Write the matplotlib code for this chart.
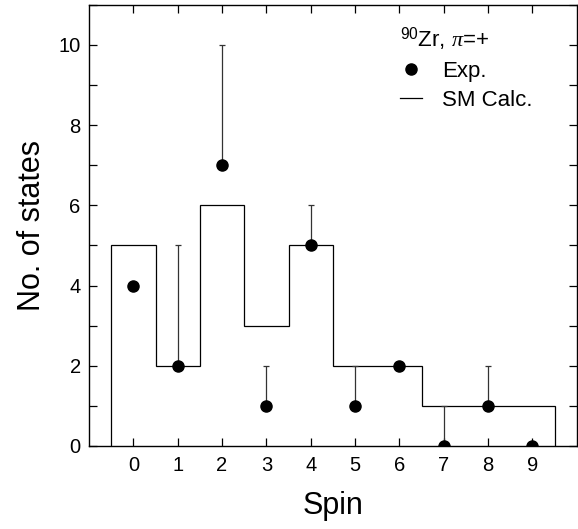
import numpy as np
import matplotlib.pyplot as plt
from matplotlib.lines import Line2D
from matplotlib.ticker import MultipleLocator

plt.rcParams['font.family'] = ['Liberation Sans', 'DejaVu Sans']
plt.rcParams['mathtext.fontset'] = 'custom'
plt.rcParams['mathtext.it'] = 'Liberation Serif:italic'
plt.rcParams['mathtext.rm'] = 'Liberation Sans'

spin = np.arange(10)
exp_states = [4, 2, 7, 1, 5, 1, 2, 0, 1, 0]
exp_err_up = [0, 3, 3, 1, 1, 1, 0, 1, 1, 0]
sm_states = [5, 2, 6, 3, 5, 2, 2, 1, 1, 1]

fig = plt.figure(figsize=(5.78, 5.29), dpi=100)
ax = fig.add_axes([0.154, 0.157, 0.844, 0.834])

edges = np.arange(11) - 0.5
ax.stairs(sm_states, edges, baseline=0, color='black', linewidth=0.9)
ax.errorbar(spin, exp_states, yerr=[np.zeros(10), exp_err_up], fmt='o', color='black',
            ecolor='#333333', elinewidth=0.9, capsize=2.5, capthick=0.9,
            markersize=8)

ax.set_xlim(-1, 10)
ax.set_ylim(0, 11)
ax.set_xticks(spin)
ax.yaxis.set_major_locator(MultipleLocator(2))
ax.yaxis.set_minor_locator(MultipleLocator(1))
ax.tick_params(which='both', direction='in', top=True, right=True, labelsize=14.5, length=6, width=0.9)
ax.tick_params(which='minor', length=6)
ax.tick_params(axis='x', pad=7)
ax.tick_params(axis='y', pad=6)
for s in ax.spines.values():
    s.set_linewidth(1.0)

ax.set_xlabel('Spin', fontsize=22, labelpad=12)
ax.set_ylabel('No. of states', fontsize=22, labelpad=8)

# legend title drawn as a separate label, entries below it
ax.text(0.637, 0.921, r'$^{90}$Zr, $\pi$=+', transform=ax.transAxes,
        fontsize=16, ha='left', va='center')
handles = [Line2D([], [], marker='o', ls='none', color='black', markersize=8),
           Line2D([], [], color='black', linewidth=0.9)]
leg = ax.legend(handles, ['Exp.', 'SM Calc.'], frameon=False,
                fontsize=16, loc='upper left', bbox_to_anchor=(0.637, 0.873),
                borderpad=0, borderaxespad=0, handlelength=1.0, handletextpad=0.9,
                labelspacing=0.35)

fig.savefig('out.png')
